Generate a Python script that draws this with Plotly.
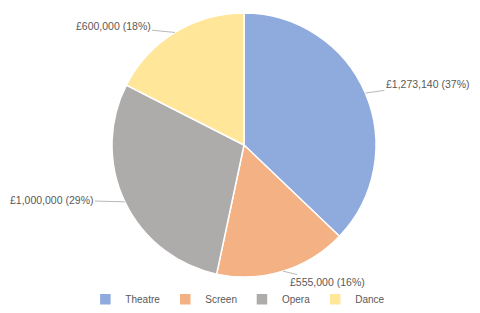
import math
import plotly.graph_objects as go

categories = ["Theatre", "Screen", "Opera", "Dance"]
values = [1273140, 555000, 1000000, 600000]
colors = ["#8FAADC", "#F4B183", "#AEABAB", "#FFE699"]
label_offsets = [(62, -9), (45, 11), (-73, -2), (-62, -6)]  # text offset in px

W, H = 480, 313
ML, MR, MT, MB = 0, 8, 5, 44

fig = go.Figure(go.Pie(
    labels=categories, values=values, sort=False, direction="clockwise", rotation=0,
    marker=dict(colors=colors, line=dict(color="white", width=1.5)),
    textinfo="none", hoverinfo="label+value+percent",
))

total = sum(values)
pw, ph = W - ML - MR, H - MT - MB
R = min(pw, ph) / 2
cx, cy = ML + pw / 2, MT + ph / 2
cum = 0
for v, (ax, ay) in zip(values, label_offsets):
    mid = (cum + v / 2) / total * 2 * math.pi
    cum += v
    px = cx + R * math.sin(mid)
    py = cy - R * math.cos(mid)
    fig.add_annotation(
        x=(px - ML) / pw, y=1 - (py - MT) / ph, xref="paper", yref="paper",
        text=f"£{v:,} ({round(v / total * 100)}%)",
        showarrow=True, arrowhead=0, arrowwidth=0.8, arrowcolor="#a6a6a6",
        ax=ax, ay=ay, standoff=0, startstandoff=0,
        font=dict(family="Liberation Sans, Arial", size=10.5, color="#595959"),
    )

fig.update_layout(
    width=W, height=H, margin=dict(l=ML, r=MR, t=MT, b=MB),
    paper_bgcolor="white", plot_bgcolor="white",
    showlegend=True,
    legend=dict(orientation="h", x=0.487, xanchor="center", y=-0.029, yanchor="top",
                font=dict(family="Liberation Sans, Arial", size=10, color="#595959"),
                itemwidth=30),
)

fig.write_html("out.html")
